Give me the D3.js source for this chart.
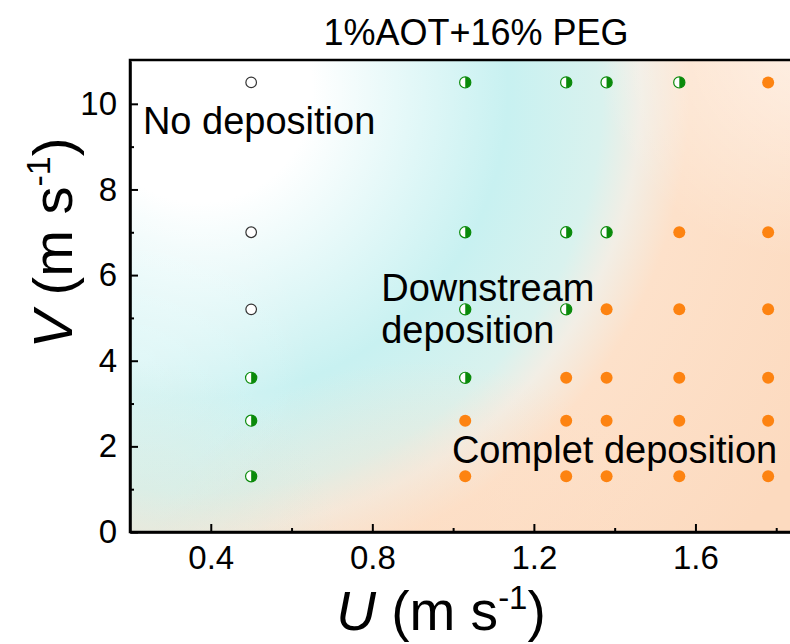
<!DOCTYPE html>
<html><head><meta charset="utf-8">
<script src="https://cdn.jsdelivr.net/npm/d3@7"></script>
<style>body{margin:0;background:#fff} svg{display:block} text{font-family:Arial,"Liberation Sans",sans-serif;fill:#000}</style>
</head><body><svg id="c" width="790" height="644"></svg>
<script>
const chartTitle = "1%AOT+16% PEG";
const uLevels = [0.5, 1.03, 1.28, 1.38, 1.56, 1.78];
const vLevels = [1.3, 2.6, 3.6, 5.2, 7.0, 10.5];
// regime at each V level (ascending), one array per U level
const regimeU050 = ["down", "down", "down", "none", "none", "none"];
const regimeU103 = ["full", "full", "down", "down", "down", "down"];
const regimeU128 = ["full", "full", "full", "down", "down", "down"];
const regimeU138 = ["full", "full", "full", "full", "down", "down"];
const regimeU156 = ["full", "full", "full", "full", "full", "down"];
const regimeU178 = ["full", "full", "full", "full", "full", "full"];
const regimeColumns = [regimeU050, regimeU103, regimeU128, regimeU138, regimeU156, regimeU178];
const xTicks = [0.4, 0.8, 1.2, 1.6];
const xMinorTicks = [0.6, 1.0, 1.4, 1.8];
const yTicks = [0, 2, 4, 6, 8, 10];
const yMinorTicks = [1, 3, 5, 7, 9];
const regionLabels = [
  {lines: ["No deposition"], u: 0.232, v: 9.3},
  {lines: ["Downstream", "deposition"], u: 0.822, v: 5.4},
  {lines: ["Complet deposition"], u: 0.997, v: 1.61}
];

const points = [];
uLevels.forEach((u, i) => vLevels.forEach((v, j) => points.push({u, v, r: regimeColumns[i][j]})));

const svg = d3.select("#c");
const L = 130, T = 61, B = 532, R = 857;
const x = d3.scaleLinear().domain([0.2, 2.0]).range([L, R]);
const y = d3.scaleLinear().domain([0, 11]).range([B, T]);

const defs = svg.append("defs");
const base = defs.append("radialGradient").attr("id", "bg").attr("gradientUnits", "userSpaceOnUse")
  .attr("cx", 200).attr("cy", 90).attr("r", 700);
[[0, "#ffffff"], [0.16, "#ffffff"], [0.44, "#c8f1f1"], [0.575, "#d9f2ee"], [0.63, "#f2eee5"], [0.70, "#fde1ca"], [1, "#fcdabf"]]
  .forEach(s => base.append("stop").attr("offset", s[0]).attr("stop-color", s[1]));
function radial(id, cx, cy, r, color, op) {
  const g = defs.append("radialGradient").attr("id", id).attr("gradientUnits", "userSpaceOnUse")
    .attr("cx", cx).attr("cy", cy).attr("r", r);
  g.append("stop").attr("offset", 0).attr("stop-color", color).attr("stop-opacity", op);
  g.append("stop").attr("offset", 1).attr("stop-color", color).attr("stop-opacity", 0);
}
radial("whiteTR", 810, 40, 220, "#ffffff", 0.55);
radial("whiteL", 140, 360, 170, "#ffffff", 0.35);
radial("peachB", 420, 660, 300, "#fcdcc2", 0.85);
radial("greyBL", 140, 560, 200, "#d8e5d6", 0.55);

defs.append("clipPath").attr("id", "plot").append("rect").attr("x", L).attr("y", T).attr("width", R - L).attr("height", B - T);

const bg = svg.append("g").attr("clip-path", "url(#plot)");
["bg", "whiteTR", "whiteL", "peachB", "greyBL"].forEach(id =>
  bg.append("rect").attr("x", L).attr("y", T).attr("width", R - L).attr("height", B - T).attr("fill", `url(#${id})`));

// axes
const fs = 33;
svg.append("g").attr("transform", `translate(0,${B})`)
  .call(d3.axisBottom(x).tickValues(xTicks).tickFormat(d3.format(".1f")).tickSize(-8).tickSizeOuter(0).tickPadding(14));
svg.append("g").attr("transform", `translate(0,${B})`)
  .call(d3.axisBottom(x).tickValues(xMinorTicks).tickFormat("").tickSize(-4).tickSizeOuter(0))
  .select(".domain").remove();
svg.append("g").attr("transform", `translate(${L},0)`)
  .call(d3.axisLeft(y).tickValues(yTicks).tickSize(-8).tickSizeOuter(0).tickPadding(13));
svg.append("g").attr("transform", `translate(${L},0)`)
  .call(d3.axisLeft(y).tickValues(yMinorTicks).tickFormat("").tickSize(-4).tickSizeOuter(0))
  .select(".domain").remove();
svg.selectAll(".tick line").attr("stroke", "#000").attr("stroke-width", 2);
svg.selectAll(".tick text").attr("font-size", fs).attr("font-family", "Arial, 'Liberation Sans', sans-serif").attr("fill", "#000");
// frame
svg.append("rect").attr("x", L).attr("y", T - 1).attr("width", R - L).attr("height", B - T + 1)
  .attr("fill", "none").attr("stroke", "#000").attr("stroke-width", 2.5);
svg.selectAll(".domain").attr("stroke", "#000").attr("stroke-width", 2.5);

// points
const arc = d3.arc().innerRadius(0).outerRadius(5.6).startAngle(0).endAngle(Math.PI);
const pg = svg.append("g");
points.forEach(p => {
  const g = pg.append("g").attr("transform", `translate(${x(p.u)},${y(p.v)})`);
  if (p.r === "full") {
    g.append("circle").attr("r", 6).attr("fill", "#fd8311");
  } else if (p.r === "down") {
    g.append("circle").attr("r", 5.6).attr("fill", "#fff").attr("stroke", "#0a8a0a").attr("stroke-width", 1.2);
    g.append("path").attr("d", arc()).attr("fill", "#0a8a0a");
  } else {
    g.append("circle").attr("r", 5.3).attr("fill", "#fff").attr("stroke", "#333").attr("stroke-width", 1.2);
  }
});

// region labels
regionLabels.forEach(lab => {
  const t = svg.append("text").attr("x", x(lab.u)).attr("y", y(lab.v)).attr("font-size", 38);
  lab.lines.forEach((ln, i) => t.append("tspan").attr("x", x(lab.u)).attr("dy", i ? 42 : 0).text(ln));
});

// title
svg.append("text").attr("x", 476).attr("y", 45).attr("text-anchor", "middle").attr("font-size", 36).text(chartTitle);

// axis titles
const xt = svg.append("text").attr("x", 441).attr("y", 630).attr("text-anchor", "middle").attr("font-size", 55);
xt.append("tspan").attr("font-style", "italic").text("U");
xt.append("tspan").text(" (m s");
xt.append("tspan").attr("dy", -21).attr("font-size", 33).text("-1");
xt.append("tspan").attr("dy", 21).text(")");

const yt = svg.append("text").attr("transform", "translate(72,243) rotate(-90)").attr("text-anchor", "middle").attr("font-size", 56);
yt.append("tspan").attr("font-style", "italic").text("V");
yt.append("tspan").text(" (m s");
yt.append("tspan").attr("dy", -22).attr("font-size", 34).text("-1");
yt.append("tspan").attr("dy", 22).text(")");
</script></body></html>
